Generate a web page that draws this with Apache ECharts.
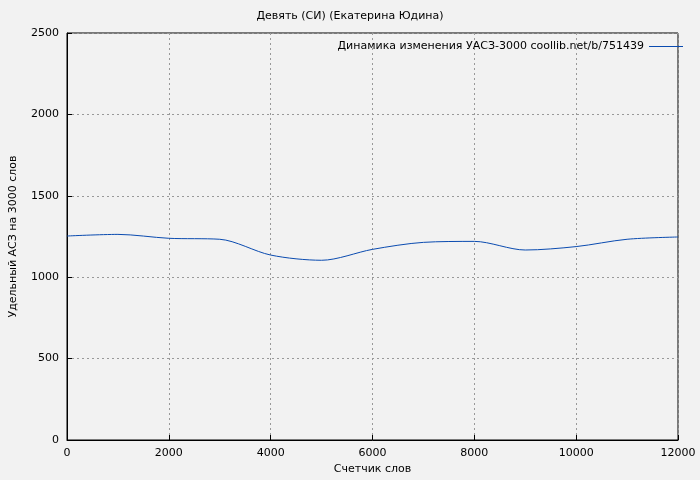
<!DOCTYPE html>
<html><head><meta charset="utf-8">
<script src="https://cdn.jsdelivr.net/npm/echarts@6/dist/echarts.min.js"></script>
<style>body{margin:0;background:#f2f2f2}#main{width:700px;height:480px}</style>
</head><body><div id="main"></div>
<script>
var xValues = [0, 1000, 2000, 3000, 4000, 5000, 6000, 7000, 8000, 9000, 10000, 11000, 12000];
var yValues = [1253, 1263, 1239, 1233, 1136, 1104, 1171, 1214, 1220, 1167, 1188, 1233, 1247];

var myChart = echarts.init(document.getElementById('main'));
var font = 'DejaVu Sans';
var plain = function (v) { return String(v); };
var option = {
  backgroundColor: '#f2f2f2',
  animation: false,
  textStyle: { fontFamily: font },
  title: {
    text: 'Девять (СИ) (Екатерина Юдина)',
    left: 'center', top: 6,
    textStyle: { fontSize: 11, fontWeight: 'normal', color: '#000', fontFamily: font }
  },
  legend: {
    right: 12, top: 36, itemWidth: 34, itemHeight: 1, itemGap: 6,
    icon: 'rect', align: 'right',
    data: ['Динамика изменения УАСЗ-3000 coollib.net/b/751439'],
    textStyle: { fontSize: 11, color: '#000', fontFamily: font }
  },
  grid: { left: 67, right: 22, top: 33, bottom: 40, show: true, borderColor: '#000', borderWidth: 1, backgroundColor: 'transparent' },
  xAxis: {
    type: 'value', min: 0, max: 12000, interval: 2000,
    name: 'Счетчик слов', nameLocation: 'middle', nameGap: 24,
    nameTextStyle: { fontSize: 11, color: '#000' },
    axisLine: { lineStyle: { color: '#000' } },
    axisTick: { inside: true, lineStyle: { color: '#000' } },
    axisLabel: { fontSize: 11, color: '#000', formatter: plain },
    splitLine: { lineStyle: { color: '#999', type: [2, 3] } }
  },
  yAxis: {
    type: 'value', min: 0, max: 2500, interval: 500,
    name: 'Удельный АСЗ на 3000 слов', nameLocation: 'middle', nameGap: 48,
    nameTextStyle: { fontSize: 11, color: '#000' },
    axisLine: { show: true, lineStyle: { color: '#000' } },
    axisTick: { show: true, inside: true, lineStyle: { color: '#000' } },
    axisLabel: { fontSize: 11, color: '#000', formatter: plain },
    splitLine: { lineStyle: { color: '#999', type: [2, 3] } }
  },
  series: [{
    name: 'Динамика изменения УАСЗ-3000 coollib.net/b/751439',
    type: 'line', smooth: 0.3, showSymbol: false,
    lineStyle: { color: '#0a4bb0', width: 1 },
    itemStyle: { color: '#0a4bb0' },
    data: xValues.map(function (x, i) { return [x, yValues[i]]; })
  }]
};
myChart.setOption(option);
</script></body></html>
